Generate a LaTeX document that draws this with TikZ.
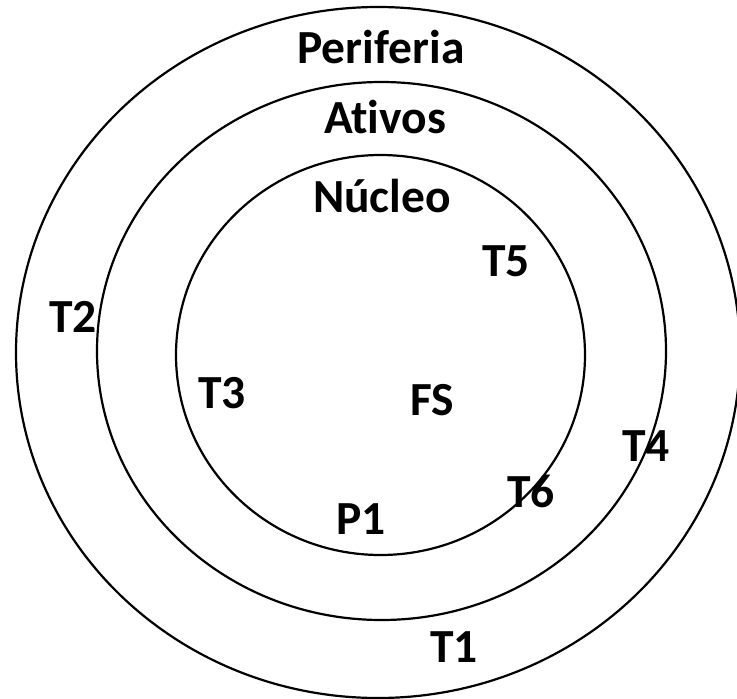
\documentclass[tikz,border=0pt]{standalone}
\usepackage{fontspec}
\setmainfont{Carlito}[Ligatures=NoCommon]
\usetikzlibrary{shapes.geometric}
\begin{document}
\begin{tikzpicture}[x=1pt,y=-1pt,
  ring/.style={draw=black, line width=2.2pt, ellipse, inner sep=0pt, fill=none},
  lbl/.style={font=\fontsize{47.5}{52}\selectfont\bfseries, anchor=base, inner sep=0pt}]
\useasboundingbox (0,0) rectangle (737,699);
\fill[white] (0,0) rectangle (737,699);
\node[ring, minimum width=724pt, minimum height=691pt] (outer) at (378,352.5) {};
\node[ring, minimum width=569pt, minimum height=538pt] (middle) at (381.5,351) {};
\node[ring, minimum width=409pt, minimum height=400pt] (inner) at (380.5,355) {};
\node[lbl] (periferia) at (381,63) {Periferia};
\node[lbl] (ativos) at (385,133) {Ativos};
\node[lbl] (nucleo) at (382,212) {Núcleo};
\node[lbl] (t5) at (506,276) {T5};
\node[lbl] (t2) at (73,332) {T2};
\node[lbl] (t3) at (222,408) {T3};
\node[lbl] (fs) at (432,415) {FS};
\node[lbl] (t4) at (646,461) {T4};
\node[lbl] (t6) at (531,507) {T6};
\node[lbl] (p1) at (361,534) {P1};
\node[lbl] (t1) at (454,662) {T1};
\end{tikzpicture}
\end{document}
